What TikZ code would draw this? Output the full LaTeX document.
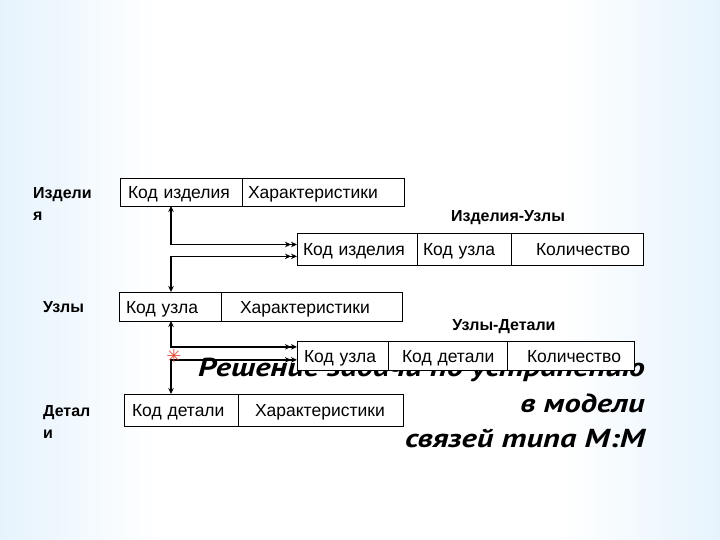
\documentclass[tikz,border=0pt]{standalone}
\usepackage{fontspec}
\setmainfont{Liberation Sans}
\newfontfamily\titlefont{PT Sans}[FakeStretch=1.25]
\newfontfamily\symfont{DejaVu Sans}
\usetikzlibrary{arrows.meta,calc}
\pgfdeclarelayer{back}
\pgfdeclarelayer{mid}
\pgfsetlayers{back,mid,main}
\definecolor{edgeblue}{RGB}{166,212,246}
\definecolor{midblue}{RGB}{205,231,250}
\definecolor{bulletred}{RGB}{224,84,60}
\pgfdeclarehorizontalshading{bgsh}{100bp}{color(0bp)=(edgeblue); color(14bp)=(midblue); color(36bp)=(white); color(64bp)=(white); color(86bp)=(midblue); color(100bp)=(edgeblue)}
\newcommand\tblfont{\fontsize{17.5pt}{20pt}\selectfont}
\newcommand\lblfont{\bfseries\fontsize{16pt}{22pt}\selectfont}
\newcommand\bigfont{\titlefont\bfseries\itshape\fontsize{26pt}{30pt}\selectfont}
\tikzset{
  cell/.style 2 args={draw=black, fill=white, line width=0.9pt, anchor=north west,
    inner xsep=0pt, inner ysep=0pt, outer sep=0pt, minimum width=#1pt, text width=#1pt,
    minimum height=#2pt, text height=16pt, text depth=3pt, font=\tblfont, align=left},
  lbl/.style={font=\lblfont, anchor=north west, align=left, inner sep=0pt},
  ttl/.style={font=\lblfont, anchor=base, inner sep=0pt},
  big/.style={font=\bigfont, anchor=base east, inner sep=0pt, text=black},
  conn/.style={line width=1.3pt, draw=black},
  toboth/.style={{Stealth[length=6pt,width=5.5pt]}-{Stealth[length=6pt,width=5.5pt]Stealth[length=6pt,width=5.5pt]}},
  fromboth/.style={{Stealth[length=6pt,width=5.5pt]Stealth[length=6pt,width=5.5pt]}-{Stealth[length=6pt,width=5.5pt]}},
}
\begin{document}
\begin{tikzpicture}[x=1pt,y=-1pt]
\useasboundingbox (0,0) rectangle (720,540);

% tables
\node[cell={122}{28}] (p1) at (120,178) {\hspace*{8pt}Код изделия};
\node[cell={162}{28}] (p2) at (p1.north east) {\hspace*{6pt}Характеристики};

\node[cell={120}{32}] (iu1) at (297,233) {\hspace*{6pt}Код изделия};
\node[cell={94}{32}] (iu2) at (iu1.north east) {\hspace*{6pt}Код узла};
\node[cell={132}{32}] (iu3) at (iu2.north east) {\hspace*{25pt}Количество};

\node[cell={102}{29}] (u1) at (119,292) {\hspace*{7pt}Код узла};
\node[cell={181}{29}] (u2) at (u1.north east) {\hspace*{19pt}Характеристики};

\node[cell={91}{29.5}] (ud1) at (297,341) {\hspace*{7pt}Код узла};
\node[cell={119}{29.5}] (ud2) at (ud1.north east) {\hspace*{14pt}Код детали};
\node[cell={127.5}{29.5}] (ud3) at (ud2.north east) {\hspace*{20pt}Количество};

\node[cell={114}{32}] (d1) at (124,394) {\hspace*{8pt}Код детали};
\node[cell={165}{32}] (d2) at (d1.north east) {\hspace*{17pt}Характеристики};

% labels
\node[lbl] (lp) at (33,187.5) {Издели\\я};
\node[lbl] (lu) at (43,301.5) {Узлы};
\node[lbl] (ld) at (43,405.5) {Детал\\и};
\node[ttl] (tiu) at (508,222) {Изделия-Узлы};
\node[ttl] (tud) at (504,330) {Узлы-Детали};

% title text (behind the tables)
\begin{pgfonlayer}{mid}
\node[text=bulletred, font=\symfont\fontsize{18pt}{18pt}\selectfont, inner sep=0pt] (bul) at (174,356) {✳};
\node[big] (h1) at (645,376) {Решение задачи по устранению};
\node[big] (h2) at (645,412) {в модели};
\node[big] (h3) at (645,447) {связей типа М:М};
\end{pgfonlayer}

% background and connectors
\begin{pgfonlayer}{back}
\shade[shading=bgsh] (0,0) rectangle (720,540);
\coordinate (lane) at (171,0);
\draw[conn, toboth] (p1.south -| lane) |- ($(iu1.north west)!0.36!(iu1.south west)$);
\draw[conn, fromboth] ($(iu1.north west)!0.73!(iu1.south west)$) -| (u1.north -| lane);
\draw[conn, toboth] (u1.south -| lane) |- ($(ud1.north west)!0.2!(ud1.south west)$);
\draw[conn, fromboth] ($(ud1.north west)!0.64!(ud1.south west)$) -| (d1.north -| lane);
\end{pgfonlayer}
\end{tikzpicture}
\end{document}
